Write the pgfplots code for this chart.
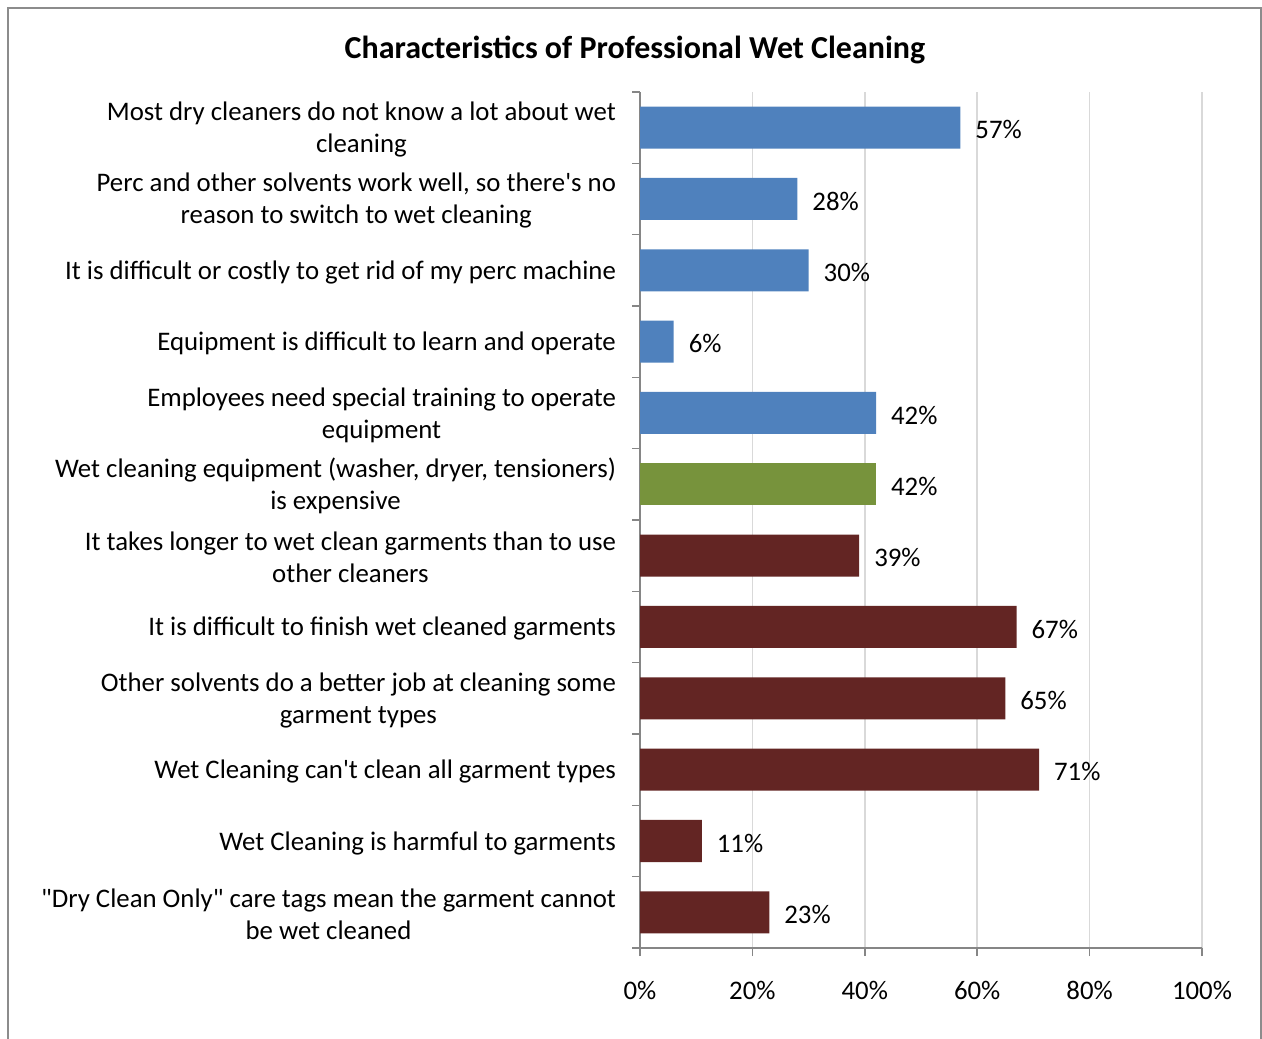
\documentclass[border=0pt]{standalone}
\usepackage{pgfplots}
\pgfplotsset{compat=1.18}
\usepackage{fontspec}
\setmainfont{Carlito}
\definecolor{cblue}{HTML}{4F81BD}
\definecolor{cgreen}{HTML}{77933C}
\definecolor{cred}{HTML}{632523}
\definecolor{gridgray}{HTML}{D9D9D9}
\definecolor{axisgray}{HTML}{868686}
\definecolor{framegray}{HTML}{8C8C8C}
\newcommand{\lbl}{\fontsize{13.4}{16}\selectfont}
\begin{document}
\begin{tikzpicture}[x=1pt,y=1pt]
\useasboundingbox (0,0) rectangle (631,519);
\draw[framegray, line width=0.9pt] (4,-5) -- (4,515) -- (630.5,515) -- (630.5,-5);
\node[font=\bfseries\fontsize{16}{19}\selectfont] at (317.5,494) {Characteristics of Professional Wet Cleaning};
\begin{axis}[
  at={(320pt,45pt)}, anchor=south west,
  scale only axis, width=281pt, height=428pt,
  xmin=0, xmax=100, ymin=-0.5, ymax=11.5,
  axis x line*=bottom, axis y line*=left,
  axis line style={color=axisgray, line width=0.75pt},
  xtick={0,20,40,60,80,100},
  xticklabels={0\%,20\%,40\%,60\%,80\%,100\%},
  minor xtick={0,20,40,60,80,100},
  ytick={0,...,11},
  minor ytick={-0.5,0.5,...,11.5},
  major tick length=0pt, minor tick length=4pt,
  tick align=outside,
  tick style={color=axisgray, line width=0.75pt},
  xmajorgrids, major grid style={color=gridgray, line width=0.75pt},
  xticklabel style={font=\lbl, yshift=-13pt},
  yticklabel style={font=\lbl, align=center, xshift=-8.5pt, yshift=-1pt},
  yticklabels={
    {\textquotedbl Dry Clean Only\textquotedbl{} care tags mean the garment cannot\\be wet cleaned},
    {Wet Cleaning is harmful to garments},
    {Wet Cleaning can\textquotesingle t clean all garment types},
    {Other solvents do a better job at cleaning some\\garment types},
    {It is difficult to finish wet cleaned garments},
    {It takes longer to wet clean garments than to use\\other cleaners},
    {Wet cleaning equipment (washer, dryer, tensioners)\\is expensive},
    {Employees need special training to operate\\equipment},
    {Equipment is difficult to learn and operate},
    {It is difficult or costly to get rid of my perc machine},
    {Perc and other solvents work well, so there\textquotesingle s no\\reason to switch to wet cleaning},
    {Most dry cleaners do not know a lot about wet\\cleaning}
  },
  xbar, bar width=21pt, bar shift=0pt,
  point meta=x,
  /pgf/number format/assume math mode=true,
  nodes near coords={\pgfmathprintnumber{\pgfplotspointmeta}\%},
  every node near coord/.append style={font=\lbl, color=black, xshift=4pt, yshift=-1pt},
  clip=false,
]
\addplot[draw=none, fill=cblue] coordinates {(57,11) (28,10) (30,9) (6,8) (42,7)};
\addplot[draw=none, fill=cgreen] coordinates {(42,6)};
\addplot[draw=none, fill=cred] coordinates {(39,5) (67,4) (65,3) (71,2) (11,1) (23,0)};
\end{axis}
\end{tikzpicture}
\end{document}
